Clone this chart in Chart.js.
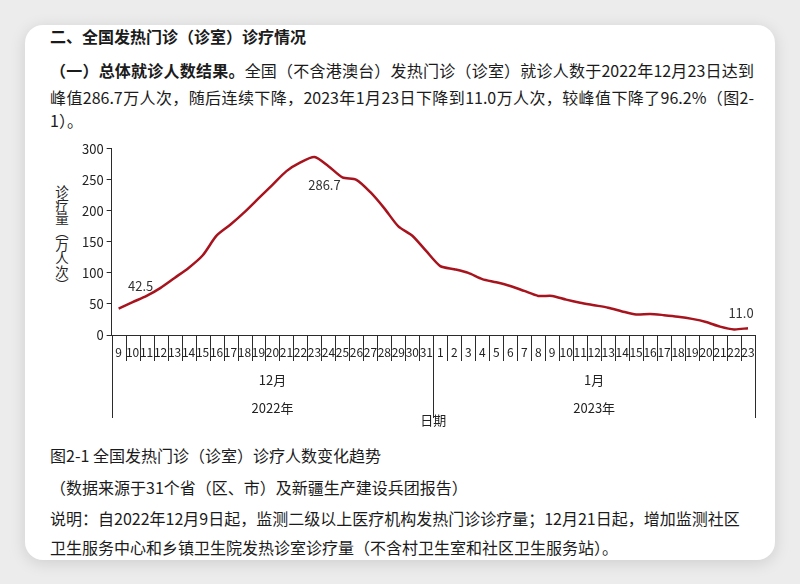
<!DOCTYPE html>
<html>
<head>
<meta charset="utf-8">
<script src="https://cdn.jsdelivr.net/npm/chart.js@4.4.0/dist/chart.umd.min.js"></script>
<style>
  html, body { margin: 0; padding: 0; }
  body {
    width: 800px; height: 584px; overflow: hidden; position: relative;
    background: #ececec; color: #1b1b1b;
    font-family: "Noto Sans CJK SC", "Noto Sans", sans-serif;
  }
  .card {
    position: absolute; left: 25px; top: 25px; width: 750px; height: 535px;
    background: #fff; border-radius: 18px;
    box-shadow: 0 3px 16px rgba(0, 0, 0, 0.13);
  }
  .t { position: absolute; left: 50px; font-size: 16px; line-height: 20px; white-space: nowrap; }
  .j { width: 704px; white-space: normal; text-align: justify; text-align-last: justify; }
  .b { font-weight: bold; }
  .ytitle {
    position: absolute; left: 55px; top: 185px; font-size: 13.5px; line-height: 14px;
    writing-mode: vertical-rl; letter-spacing: -0.2px; color: #222;
  }
  #wrap { position: absolute; left: 40px; top: 138px; width: 740px; height: 290px; }
</style>
</head>
<body>
<div class="card"></div>
<div class="t b" style="top:26px">二、全国发热门诊（诊室）诊疗情况</div>
<div class="t j" style="top:60px"><span class="b">（一）总体就诊人数结果。</span>全国（不含港澳台）发热门诊（诊室）就诊人数于2022年12月23日达到</div>
<div class="t j" style="top:87px">峰值286.7万人次，随后连续下降，2023年1月23日下降到11.0万人次，较峰值下降了96.2%（图2-</div>
<div class="t" style="top:110px">1）。</div>

<div class="ytitle">诊疗量（万人次）</div>
<div id="wrap"><canvas id="feverChart"></canvas></div>

<div class="t" style="top:445px">图2-1 全国发热门诊（诊室）诊疗人数变化趋势</div>
<div class="t" style="top:477px">（数据来源于31个省（区、市）及新疆生产建设兵团报告）</div>
<div class="t" style="top:508px">说明：自2022年12月9日起，监测二级以上医疗机构发热门诊诊疗量；12月21日起，增加监测社区</div>
<div class="t" style="top:537px">卫生服务中心和乡镇卫生院发热诊室诊疗量（不含村卫生室和社区卫生服务站）。</div>

<script>
const days = ["9", "10", "11", "12", "13", "14", "15", "16", "17", "18", "19", "20", "21", "22", "23",
  "24", "25", "26", "27", "28", "29", "30", "31",
  "1", "2", "3", "4", "5", "6", "7", "8", "9", "10", "11", "12", "13", "14", "15", "16", "17", "18",
  "19", "20", "21", "22", "23"];
const months = ["12月", "1月"];
const years = ["2022年", "2023年"];
// 万人次
const visits = [42.5, 53, 63, 76, 92, 108, 128, 160, 178, 198, 220, 242, 264, 278, 286.7,
  272, 254, 250, 230, 204, 175, 160, 135,
  111, 106, 100, 90, 85, 79, 71, 63, 63, 57, 52, 48, 44, 38, 33, 34, 32, 29.5,
  26, 21, 13.5, 9, 11.0];
const marked = [0, 14, 45];
const yTicks = [0, 50, 100, 150, 200, 250, 300];

const lineColor = "#a7141e";
const axisColor = "#2b2b2b";
const cjk = "'Noto Sans CJK SC'";

// value labels, day separators and long month/year separators
const extras = {
  id: "extras",
  afterDraw(chart) {
    const ctx = chart.ctx;
    const pts = chart.getDatasetMeta(0).data;
    const offs = { 0: [22, -23], 14: [10, 28], 45: [-7, -15] };
    ctx.save();
    ctx.font = "13px " + cjk;
    ctx.fillStyle = "#333";
    ctx.textAlign = "center";
    ctx.textBaseline = "middle";
    marked.forEach(function (i) {
      const o = offs[i] || [0, -12];
      ctx.fillText(visits[i].toFixed(1), pts[i].x + o[0], pts[i].y + o[1]);
    });

    const x = chart.scales.x;
    const bottom = chart.chartArea.bottom;
    const edge = function (i) {
      if (i <= 0) return x.left;
      if (i >= days.length) return x.right;
      return (x.getPixelForTick(i - 1) + x.getPixelForTick(i)) / 2;
    };
    const split = days.indexOf("1");
    const yEnd = chart.scales.x3.bottom - 10;
    ctx.strokeStyle = axisColor;
    ctx.lineWidth = 1;
    for (let i = 0; i <= days.length; i++) {
      const xx = Math.round(edge(i)) + 0.5;
      const long = i === 0 || i === split || i === days.length;
      ctx.beginPath();
      ctx.moveTo(xx, bottom);
      ctx.lineTo(xx, long ? yEnd : bottom + 26);
      ctx.stroke();
    }
    ctx.restore();
  }
};

const ctx = document.getElementById("feverChart").getContext("2d");
const feverChart = new Chart(ctx, {
  type: "line",
  data: {
    labels: days,
    datasets: [
      {
        label: "诊疗量",
        data: visits,
        borderColor: lineColor,
        borderWidth: 2.5,
        pointRadius: 0,
        fill: false,
        tension: 0.25
      }
    ]
  },
  options: {
    responsive: true,
    maintainAspectRatio: false,
    animation: false,
    layout: { padding: { left: 39, right: 25, top: 4, bottom: 0 } },
    plugins: {
      legend: { display: false },
      tooltip: { enabled: false }
    },
    scales: {
      x: {
        offset: true,
        weight: 0,
        grid: { offset: true, drawOnChartArea: false, drawTicks: false, color: axisColor },
        border: { color: axisColor },
        ticks: { autoSkip: false, maxRotation: 0, padding: 10, color: "#222", font: { family: cjk, size: 12 } }
      },
      x2: {
        type: "category",
        labels: months,
        position: "bottom",
        offset: true,
        weight: 1,
        grid: { display: false, drawTicks: false },
        border: { display: false },
        ticks: { padding: 2.8, color: "#222", font: { family: cjk, size: 13 } }
      },
      x3: {
        type: "category",
        labels: years,
        position: "bottom",
        offset: true,
        weight: 2,
        grid: { display: false, drawTicks: false },
        border: { display: false },
        ticks: { padding: 9.6, color: "#222", font: { family: cjk, size: 13 } },
        title: { display: true, text: "日期", padding: { top: -13, bottom: 0 }, color: "#222", font: { family: cjk, size: 13 } }
      },
      y: {
        min: 0,
        max: 300,
        afterBuildTicks: function (axis) { axis.ticks = yTicks.map(function (v) { return { value: v }; }); },
        grid: { drawOnChartArea: false, tickLength: 5, color: axisColor },
        border: { color: axisColor },
        ticks: { padding: 3, color: "#222", font: { family: cjk, size: 13 } }
      }
    }
  },
  plugins: [extras]
});
</script>
</body>
</html>
